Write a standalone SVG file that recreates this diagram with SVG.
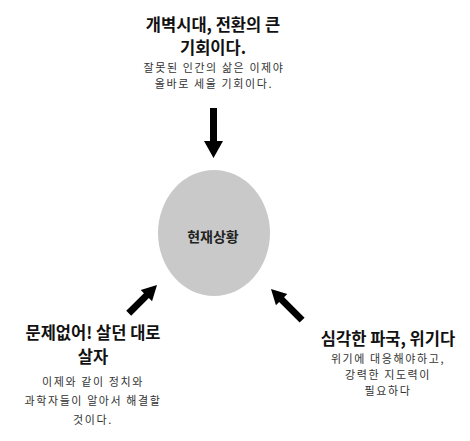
<svg xmlns="http://www.w3.org/2000/svg" width="470" height="441" viewBox="0 0 470 441">
<defs>
<style>
.t{font-family:"Noto Sans CJK KR","Noto Sans",sans-serif;font-weight:700;font-size:16.5px;fill:#111;text-anchor:middle}
.s{font-family:"Noto Sans CJK KR","Noto Sans",sans-serif;font-weight:400;font-size:11px;fill:#333;text-anchor:middle;letter-spacing:1.6px}
.c{font-family:"Noto Sans CJK KR","Noto Sans",sans-serif;font-weight:700;font-size:14px;fill:#222;text-anchor:middle}
.a{fill:#000}
</style>
</defs>
<rect width="470" height="441" fill="#fff"/>
<g id="top">
<text class="t" x="213" y="31">개벽시대, 전환의 큰</text>
<text class="t" x="213" y="53.5">기회이다.</text>
<text class="s" x="214" y="71.5">잘못된 인간의 삶은 이제야</text>
<text class="s" x="214" y="87.5">올바로 세울 기회이다.</text>
</g>
<g id="center">
<ellipse cx="214" cy="233" rx="56" ry="63" fill="#c9c9c9"/>
<text class="c" x="213" y="242">현재상황</text>
</g>
<g id="left">
<text class="t" x="93" y="339">문제없어! 살던 대로</text>
<text class="t" x="93" y="363">살자</text>
<text class="s" x="93" y="386">이제와 같이 정치와</text>
<text class="s" x="93" y="405">과학자들이 알아서 해결할</text>
<text class="s" x="93" y="424">것이다.</text>
</g>
<g id="right">
<text class="t" x="388" y="345">심각한 파국, 위기다</text>
<text class="s" x="388" y="363">위기에 대응해야하고,</text>
<text class="s" x="388" y="379">강력한 지도력이</text>
<text class="s" x="388" y="395">필요하다</text>
</g>
<g id="connectors">
<polygon class="a" points="210,108 217,108 217,141 223,141 213.5,158 204,141 210,141"/>
<g transform="translate(157,285) rotate(-45)">
<polygon class="a" points="0,0 -15,-8 -15,-3.5 -40,-3.5 -40,3.5 -15,3.5 -15,8"/>
</g>
<g transform="translate(271,289) rotate(-135)">
<polygon class="a" points="0,0 -15,-8 -15,-3.5 -44,-3.5 -44,3.5 -15,3.5 -15,8"/>
</g>
</g>
</svg>
